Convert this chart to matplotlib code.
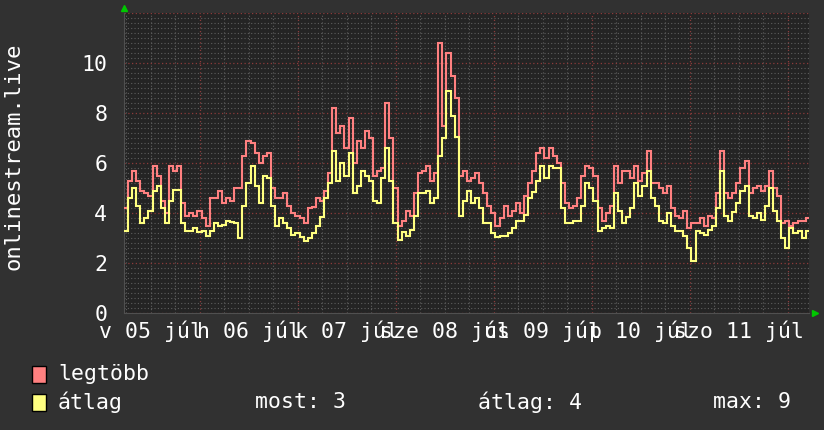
import matplotlib
matplotlib.use("Agg")
import matplotlib.pyplot as plt
import matplotlib.transforms as mtransforms
from matplotlib.patches import Rectangle
from matplotlib.ticker import MultipleLocator, FixedLocator
import numpy as np

# ---------------- data ----------------
# hours since 5 July 00:00; one sample per hour
start_hour = 5.4
step_hours = 1.0
end_hour = 173.2

legtobb = [4.2, 5.3, 5.7, 5.3, 4.9, 4.8, 4.7, 5.9, 5.5, 4.5,
           4.0, 5.9, 5.7, 5.9, 4.4, 3.9, 4.0, 3.9, 4.1, 3.8,
           3.5, 4.6, 4.6, 4.9, 4.4, 4.6, 4.5, 5.0, 5.0, 6.3,
           6.9, 6.8, 6.4, 6.0, 6.3, 6.4, 5.0, 4.6, 4.6, 4.8,
           4.3, 4.0, 3.9, 3.8, 3.6, 4.2, 4.25, 4.6, 4.5, 4.9,
           5.6, 8.2, 7.2, 7.5, 6.6, 7.8, 6.0, 6.9, 6.6, 7.3,
           7.0, 5.5, 5.7, 5.8, 8.4, 7.0, 5.0, 3.5, 3.7, 4.1,
           3.9, 4.8, 5.6, 5.7, 5.9, 5.3, 5.6, 10.8, 7.5, 10.4,
           9.5, 8.6, 5.5, 5.7, 5.3, 5.4, 5.6, 5.2, 4.8, 4.3,
           4.0, 3.5, 3.8, 4.3, 3.9, 4.1, 4.4, 4.0, 4.7, 5.2,
           5.7, 6.4, 6.6, 6.2, 6.6, 6.3, 6.0, 5.2, 4.4, 4.2,
           4.3, 4.6, 5.5, 5.9, 5.8, 5.5, 4.2, 3.7, 4.0, 4.3,
           5.9, 5.2, 5.7, 5.7, 5.4, 5.9, 5.3, 5.6, 6.5, 5.2,
           5.2, 5.0, 4.8, 5.1, 4.2, 3.9, 3.8, 4.1, 3.4, 3.6,
           3.6, 3.8, 3.5, 3.9, 3.8, 4.8, 6.5, 4.8, 4.6, 4.8,
           5.2, 5.8, 6.1, 4.8, 5.0, 5.1, 4.9, 5.1, 5.7, 5.0,
           4.7, 3.6, 3.7, 3.5, 3.6, 3.7, 3.7, 3.8]

atlag = [3.3, 4.6, 5.0, 4.3, 3.6, 3.8, 4.1, 4.9, 5.1, 4.2,
         3.6, 4.5, 4.95, 4.95, 3.6, 3.3, 3.3, 3.4, 3.25, 3.3,
         3.1, 3.3, 3.6, 3.5, 3.55, 3.7, 3.65, 3.6, 3.0, 4.3,
         5.2, 5.9, 5.1, 4.4, 5.5, 5.4, 4.3, 3.5, 3.8, 3.6,
         3.4, 3.15, 3.2, 3.05, 2.9, 3.0, 3.2, 3.5, 3.85, 4.6,
         5.2, 6.5, 5.3, 6.0, 5.5, 6.4, 4.8, 5.1, 5.7, 5.5,
         5.3, 4.5, 4.4, 5.4, 6.6, 5.3, 3.6, 2.95, 3.25, 3.1,
         3.35, 3.9, 4.8, 4.8, 4.9, 4.4, 4.6, 6.3, 7.0, 8.9,
         7.9, 7.05, 3.9, 4.5, 4.9, 4.4, 4.6, 4.2, 3.6, 3.6,
         3.2, 3.05, 3.1, 3.1, 3.2, 3.4, 3.7, 3.7, 3.95, 4.6,
         4.85, 5.3, 5.9, 5.4, 5.9, 5.8, 5.8, 4.2, 3.6, 3.6,
         3.7, 3.7, 4.3, 5.2, 5.0, 4.5, 3.3, 3.4, 3.5, 3.4,
         4.8, 4.1, 3.6, 3.85, 4.2, 5.2, 4.7, 5.1, 5.7, 4.6,
         4.3, 3.7, 3.6, 4.0, 3.5, 3.3, 3.3, 3.1, 2.6, 2.1,
         3.3, 3.2, 3.15, 3.35, 3.5, 4.2, 5.7, 3.9, 3.7, 4.05,
         4.4, 4.9, 5.1, 3.9, 3.8, 4.0, 3.75, 4.3, 5.0, 4.1,
         3.7, 3.0, 2.6, 3.4, 3.2, 3.3, 3.0, 3.3]

day_labels = ["v 05 júl", "h 06 júl", "k 07 júl", "sze 08 júl",
              "cs 09 júl", "p 10 júl", "szo 11 júl"]
y_ticks = [0, 2, 4, 6, 8, 10]
y_label = "onlinestream.live"
series_names = ["legtöbb", "átlag"]
stats_labels = ["most: 3", "átlag: 4", "max: 9"]

# ---------------- style ----------------
W, H = 824, 430
BG = "#313131"
CANVAS = "#242424"
RED = "#ff8080"
YEL = "#ffff80"
FONT = "DejaVu Sans Mono"
FS = 15.5

fig = plt.figure(figsize=(W / 100, H / 100), dpi=100, facecolor=BG)
ax_top, ax_bottom = 13.3, 313.3
ax = fig.add_axes([124 / W, (H - ax_bottom) / H, 685 / W, (ax_bottom - ax_top) / H])
ax.set_facecolor(CANVAS)

edges = start_hour + step_hours * np.arange(len(legtobb) + 1)
ax.stairs(legtobb, edges, baseline=None, color=RED, lw=1.5, zorder=3)
ax.stairs(atlag, edges, baseline=None, color=YEL, lw=1.5, zorder=4)

ax.set_xlim(start_hour, end_hour)
ax.set_ylim(0, 12)

# grid
ax.xaxis.set_major_locator(FixedLocator([24 * k for k in range(1, 8)]))
ax.xaxis.set_minor_locator(MultipleLocator(6))
ax.yaxis.set_major_locator(FixedLocator(y_ticks + [12]))
ax.yaxis.set_minor_locator(MultipleLocator(0.2))
ax.grid(which="minor", color="#5e5e5e", ls=(0, (1, 2)), lw=0.8, zorder=1)
ax.grid(which="major", color="#8c3b3b", ls=(0, (1, 2)), lw=0.9, zorder=2)
ax.set_axisbelow(True)
ax.set_xticklabels([])
ax.tick_params(axis="both", which="both", length=0)
ax.set_yticklabels([str(v) for v in y_ticks] + [""], fontfamily=FONT,
                   fontsize=FS, color="white")
ax.tick_params(axis="y", pad=12)

for s in ["top", "right"]:
    ax.spines[s].set_visible(False)
for s in ["left", "bottom"]:
    ax.spines[s].set_color("#505050")
    ax.spines[s].set_linewidth(0.8)

# x labels centred on noon of each day
trans = mtransforms.blended_transform_factory(ax.transData, ax.transAxes)
for k, lab in enumerate(day_labels):
    ax.text(12 + 24 * k, -17.7 / (ax_bottom - ax_top), lab, transform=trans,
            ha="center", va="center", fontfamily=FONT, fontsize=FS,
            color="white", clip_on=False)

# green arrows
ax.plot([0], [1.0 + 5 / (ax_bottom - ax_top)], marker="^", color="#00c800",
        ms=5, transform=ax.transAxes, clip_on=False, zorder=5)
ax.plot([1.0 + 6 / 685], [0], marker=">", color="#00c800", ms=5,
        transform=ax.transAxes, clip_on=False, zorder=5)

# y label
fig.text(14 / W, 1 - 156 / H, y_label, rotation=90, ha="center", va="center",
         fontfamily=FONT, fontsize=16, color="white")

# legend
for row, (name, col) in enumerate(zip(series_names, [RED, YEL])):
    yc = 374 + 28 * row
    fig.add_artist(Rectangle((32 / W, 1 - (yc + 8.5) / H), 14 / W, 17 / H,
                             facecolor=col, edgecolor="black", lw=1,
                             transform=fig.transFigure))
    fig.text(58 / W, 1 - yc / H, name, ha="left", va="center",
             fontfamily=FONT, fontsize=FS, color="white")

for x, lab in zip([255, 478, 713], stats_labels):
    fig.text(x / W, 1 - 402 / H, lab, ha="left", va="center",
             fontfamily=FONT, fontsize=FS, color="white")

fig.savefig("out.png", dpi=100, facecolor=BG)
